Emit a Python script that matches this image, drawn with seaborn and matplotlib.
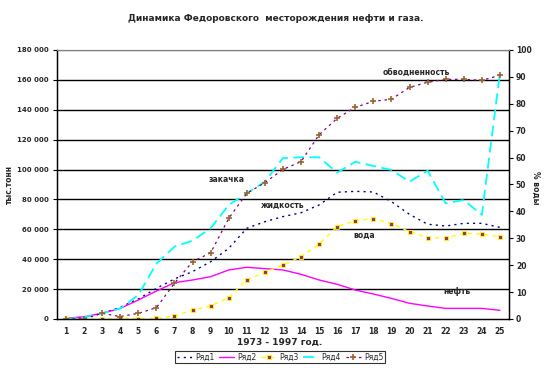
import numpy as np
import pandas as pd
import matplotlib
matplotlib.use("Agg")
import matplotlib.pyplot as plt
import seaborn as sns

# years 1973-1997 shown as 1..25
years = list(range(1, 26))

# thousand tonnes (left axis)
liquid = [500, 1000, 3800, 7800, 13400, 20500, 26800, 31700, 38300, 47300, 60700, 65100, 68500,
          71100, 76300, 84800, 85400, 85000, 78500, 70000, 63400, 62200, 64000, 64000, 61300]
oil = [500, 1500, 3800, 7100, 12700, 18700, 24300, 26100, 28300, 32800, 34600, 33700, 32800,
       29900, 26100, 23200, 19400, 16700, 13800, 10500, 8700, 7100, 7100, 7100, 5800]
water = [0, 0, 100, 700, 300, 400, 2000, 6000, 8700, 14300, 26300, 31200, 36100,
         41700, 50200, 61800, 65800, 67100, 63800, 58400, 54400, 54200, 57300, 56700, 55100]
injection = [0, 1100, 3800, 7100, 16000, 37000, 48400, 52400, 60700, 76300, 84100, 91900, 107700,
             108200, 108200, 97900, 105200, 102400, 99700, 91900, 99200, 77400, 79600, 69600, 164600]
# water cut, % (right axis)
watercut = [0, 0, 2.1, 0.9, 2.1, 4.2, 13.3, 21.3, 24.6, 37.4, 46.7, 50.7, 55.6,
            58.5, 68.5, 74.6, 78.7, 80.9, 81.7, 86.1, 88.0, 89.1, 89.1, 88.7, 90.6]

df = pd.DataFrame({"year": years, "Ряд1": liquid, "Ряд2": oil, "Ряд3": water, "Ряд4": injection})

sns.set_style("white")
plt.rcParams["font.family"] = ["DejaVu Sans"]

fig = plt.figure(figsize=(5.51, 3.68), dpi=100)
ax = fig.add_axes([0.1034, 0.1332, 0.8203, 0.731])
ax2 = ax.twinx()

sns.lineplot(data=df, x="year", y="Ряд1", ax=ax, color="#000080", lw=1.0,
             linestyle=(0, (1.5, 3)), label="Ряд1", legend=False)
sns.lineplot(data=df, x="year", y="Ряд2", ax=ax, color="#FF00FF", lw=1.0,
             label="Ряд2", legend=False)
sns.lineplot(data=df, x="year", y="Ряд3", ax=ax, color="#FFFF00", lw=1.0,
             linestyle=(0, (3, 3)), marker="s", markersize=3.5, markerfacecolor="#993366",
             markeredgecolor="#FFFF00", markeredgewidth=0.6, label="Ряд3", legend=False)
sns.lineplot(data=df, x="year", y="Ряд4", ax=ax, color="#00FFFF", lw=1.3,
             linestyle=(0, (6, 3)), label="Ряд4", legend=False)
wc = pd.DataFrame({"year": years, "cut": watercut})
sns.lineplot(data=wc, x="year", y="cut", ax=ax2, color="#800080", lw=0.9,
             linestyle=(0, (2, 3)), marker="+", markersize=4, markeredgecolor="#996633",
             markeredgewidth=1.2, label="Ряд5", legend=False)

fs = 5.5
ax.set_xlim(0.5, 25.5)
ax.set_ylim(0, 180000)
ax2.set_ylim(0, 100)
ax.set_yticks(range(0, 180001, 20000))
ax.set_yticklabels(["0"] + [f"{v // 1000} 000" for v in range(20000, 180001, 20000)],
                   fontsize=5, fontweight="bold")
ax2.set_yticks(range(0, 101, 10))
ax2.set_yticklabels([str(v) for v in range(0, 101, 10)], fontsize=fs, fontweight="bold")
ax.set_xticks(years)
ax.set_xticklabels([str(y) for y in years], fontsize=fs, fontweight="bold")
ax.set_xticks(np.arange(0.5, 26, 1), minor=True)
ax.tick_params(axis="x", which="major", length=0, pad=6)
ax.tick_params(axis="x", which="minor", length=3, width=0.8, color="black", direction="out")
ax.tick_params(axis="y", length=3, width=0.8, color="black", direction="out", pad=3)
ax2.tick_params(axis="y", length=3, width=0.8, color="black", direction="out", pad=2)

ax.grid(False)
ax2.grid(False)
for v in range(20000, 180001, 20000):
    ax.axhline(v, color="black" if v < 180000 else "#808080", lw=1.0, zorder=0)

for a in (ax, ax2):
    for side in ("left", "right", "bottom"):
        a.spines[side].set_color("black")
        a.spines[side].set_linewidth(0.9)
    a.spines["top"].set_color("#808080")

ax.set_xlabel("")
ax.set_ylabel("")
ax2.set_ylabel("")

fig.text(0.5, 0.951, "Динамика Федоровского  месторождения нефти и газа.", ha="center",
         va="center", fontsize=6.5, fontweight="bold")
fig.text(0.508, 0.07, "1973 - 1997 год.", ha="center", va="center", fontsize=6.5, fontweight="bold")
fig.text(0.018, 0.497, "тыс.тонн", rotation=90, ha="center", va="center", fontsize=fs, fontweight="bold")
fig.text(0.972, 0.49, "% воды", rotation=270, ha="center", va="center", fontsize=fs, fontweight="bold")

ax.text(9.9, 93000, "закачка", fontsize=fs, fontweight="bold", ha="center", va="center")
ax.text(11.8, 76000, "жидкость", fontsize=fs, fontweight="bold", ha="left", va="center")
ax.text(17.5, 56000, "вода", fontsize=fs, fontweight="bold", ha="center", va="center")
ax.text(22.6, 18500, "нефть", fontsize=fs, fontweight="bold", ha="center", va="center")
ax.text(20.4, 165000, "обводненность", fontsize=fs, fontweight="bold", ha="center", va="center")

h1, l1 = ax.get_legend_handles_labels()
h2, l2 = ax2.get_legend_handles_labels()
leg = fig.legend(h1 + h2, l1 + l2, loc="center", bbox_to_anchor=(0.508, 0.03), ncol=5,
                 fontsize=fs, frameon=True, fancybox=False, edgecolor="black", handlelength=2.0,
                 handletextpad=0.4, columnspacing=0.6, borderpad=0.2, borderaxespad=0)
leg.get_frame().set_linewidth(0.8)

fig.savefig("out.png", dpi=100)
